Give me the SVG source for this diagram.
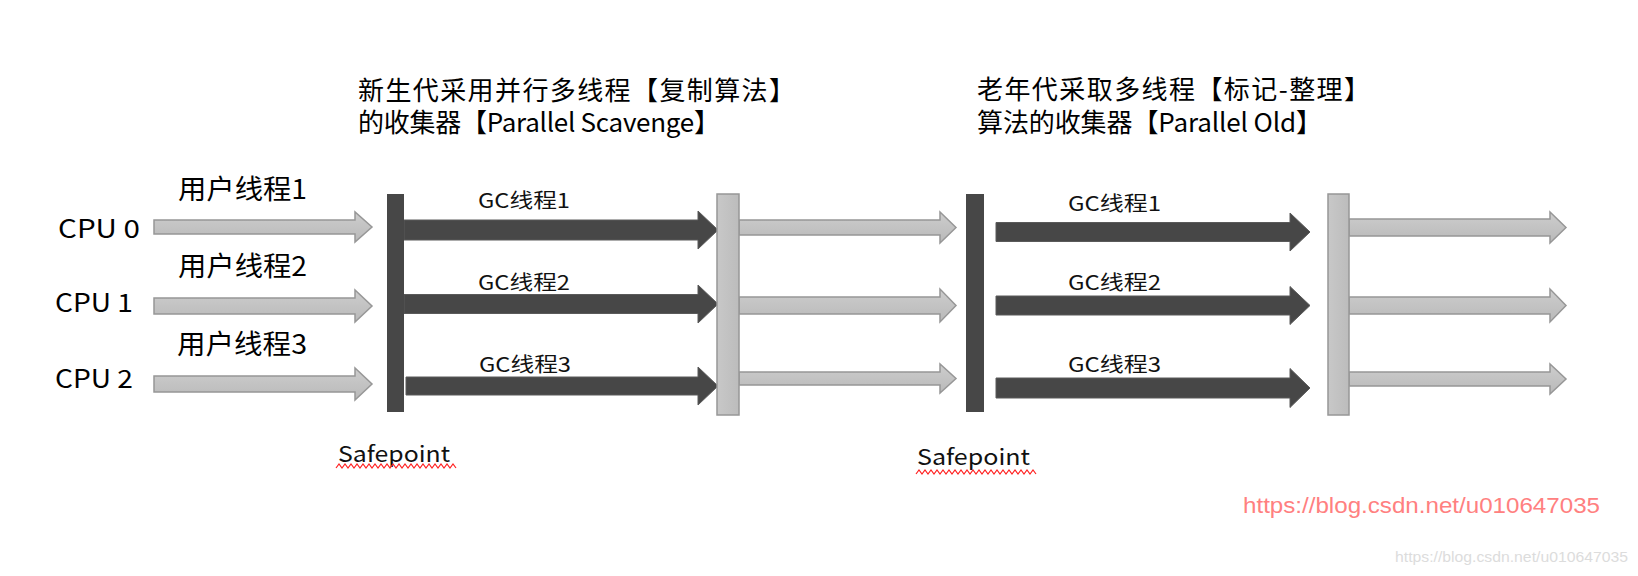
<svg xmlns="http://www.w3.org/2000/svg" width="1638" height="576" viewBox="0 0 1638 576">
<defs>
<linearGradient id="lg" x1="0" y1="0" x2="0" y2="1">
<stop offset="0" stop-color="#cdcdcd"/>
<stop offset="1" stop-color="#b9b9b9"/>
</linearGradient>
<linearGradient id="lgb" x1="0" y1="0" x2="1" y2="0">
<stop offset="0" stop-color="#c8c8c8"/>
<stop offset="1" stop-color="#bcbcbc"/>
</linearGradient>
</defs>
<style>
.t{font-family:"Noto Sans CJK SC","Noto Sans",sans-serif;fill:#000}
.title{font-size:26px}
.lab{font-size:27px}
.cpu{font-size:25px}
.gc{font-size:20px;fill:#111}
.sp{font-size:22px;fill:#111}
.la{fill:url(#lg);stroke:#979797;stroke-width:1.5}
.lb{fill:url(#lgb);stroke:#979797;stroke-width:1.5}
.da{fill:#474747;stroke:#5a5a5a;stroke-width:1}
.db{fill:#474747}
.wave{fill:none;stroke:#ff2020;stroke-width:1.2}
.wm{font-family:"Liberation Sans",Arial,sans-serif}
</style>
<rect width="1638" height="576" fill="#fff"/>

<g id="titles">
<text class="t title" x="358" y="100" textLength="437" lengthAdjust="spacing">新生代采用并行多线程【复制算法】</text>
<text class="t title" x="358" y="132" textLength="362" lengthAdjust="spacing">的收集器【Parallel Scavenge】</text>
<text class="t title" x="977" y="99" textLength="393" lengthAdjust="spacing">老年代采取多线程【标记-整理】</text>
<text class="t title" x="977" y="132" textLength="345" lengthAdjust="spacing">算法的收集器【Parallel Old】</text>
</g>

<g id="cpu-labels">
<text class="t cpu" x="58" y="238" textLength="82" lengthAdjust="spacingAndGlyphs">CPU 0</text>
<text class="t cpu" x="55" y="312" textLength="78" lengthAdjust="spacingAndGlyphs">CPU 1</text>
<text class="t cpu" x="55" y="388" textLength="78" lengthAdjust="spacingAndGlyphs">CPU 2</text>
</g>

<g id="user-thread-labels">
<text class="t lab" x="178" y="199" textLength="129" lengthAdjust="spacingAndGlyphs">用户线程1</text>
<text class="t lab" x="178" y="276" textLength="129" lengthAdjust="spacingAndGlyphs">用户线程2</text>
<text class="t lab" x="177" y="354" textLength="130" lengthAdjust="spacingAndGlyphs">用户线程3</text>
</g>

<g id="connectors">
<polygon class="la" points="154,220 355,220 355,212 372,227 355,242 355,234 154,234"/>
<polygon class="la" points="154,298 355,298 355,290 372,306 355,322 355,314 154,314"/>
<polygon class="la" points="154,376 355,376 355,368 372,384 355,400 355,392 154,392"/>
<polygon class="da" points="404,220 698,220 698,211 718,230 698,249 698,240 404,240"/>
<polygon class="da" points="404,294.5 698,294.5 698,285 718,304 698,323 698,313.5 404,313.5"/>
<polygon class="da" points="406,377 698,377 698,367 718,386 698,405 698,395 406,395"/>
<polygon class="la" points="739,220 940,220 940,212 956,227.5 940,243 940,235 739,235"/>
<polygon class="la" points="739,297 940,297 940,289 956,305.5 940,322 940,314 739,314"/>
<polygon class="la" points="739,372 940,372 940,364 956,378.5 940,393 940,385 739,385"/>
<polygon class="da" points="996,222.5 1290,222.5 1290,213 1310,232 1290,251 1290,241.5 996,241.5"/>
<polygon class="da" points="996,296 1290,296 1290,286.5 1310,305.5 1290,324.5 1290,315 996,315"/>
<polygon class="da" points="996,378 1290,378 1290,368.5 1310,388 1290,407.5 1290,398 996,398"/>
<polygon class="la" points="1349,219 1550,219 1550,212 1566,227.5 1550,243 1550,236 1349,236"/>
<polygon class="la" points="1349,297 1550,297 1550,289 1566,305.5 1550,322 1550,314 1349,314"/>
<polygon class="la" points="1349,372 1550,372 1550,364 1566,379 1550,394 1550,386 1349,386"/>
</g>

<g id="safepoint-1">
<rect class="db" x="387" y="194" width="17" height="218"/>
</g>
<g id="resume-1">
<rect class="lb" x="717" y="194" width="22" height="221"/>
</g>
<g id="safepoint-2">
<rect class="db" x="966" y="194" width="18" height="218"/>
</g>
<g id="resume-2">
<rect class="lb" x="1328" y="194" width="21" height="221"/>
</g>

<g id="gc-labels">
<text class="t gc" x="478" y="208" textLength="92" lengthAdjust="spacingAndGlyphs">GC线程1</text>
<text class="t gc" x="478" y="290" textLength="92" lengthAdjust="spacingAndGlyphs">GC线程2</text>
<text class="t gc" x="479" y="372" textLength="92" lengthAdjust="spacingAndGlyphs">GC线程3</text>
<text class="t gc" x="1068" y="211" textLength="93" lengthAdjust="spacingAndGlyphs">GC线程1</text>
<text class="t gc" x="1068" y="290" textLength="93" lengthAdjust="spacingAndGlyphs">GC线程2</text>
<text class="t gc" x="1068" y="372" textLength="93" lengthAdjust="spacingAndGlyphs">GC线程3</text>
</g>

<g id="safepoint-labels">
<text class="t sp" x="338" y="462" textLength="112" lengthAdjust="spacingAndGlyphs">Safepoint</text>
<path class="wave" d="M336,468 l3,-4 l3,4 l3,-4 l3,4 l3,-4 l3,4 l3,-4 l3,4 l3,-4 l3,4 l3,-4 l3,4 l3,-4 l3,4 l3,-4 l3,4 l3,-4 l3,4 l3,-4 l3,4 l3,-4 l3,4 l3,-4 l3,4 l3,-4 l3,4 l3,-4 l3,4 l3,-4 l3,4 l3,-4 l3,4 l3,-4 l3,4 l3,-4 l3,4 l3,-4 l3,4 l3,-4 l3,4"/>
<text class="t sp" x="917" y="465" textLength="113" lengthAdjust="spacingAndGlyphs">Safepoint</text>
<path class="wave" d="M916,474 l3,-4 l3,4 l3,-4 l3,4 l3,-4 l3,4 l3,-4 l3,4 l3,-4 l3,4 l3,-4 l3,4 l3,-4 l3,4 l3,-4 l3,4 l3,-4 l3,4 l3,-4 l3,4 l3,-4 l3,4 l3,-4 l3,4 l3,-4 l3,4 l3,-4 l3,4 l3,-4 l3,4 l3,-4 l3,4 l3,-4 l3,4 l3,-4 l3,4 l3,-4 l3,4 l3,-4 l3,4"/>
</g>

<g id="watermark">
<text class="wm" x="1243" y="513" font-size="22" fill="#ff8080" textLength="357" lengthAdjust="spacingAndGlyphs">https://blog.csdn.net/u010647035</text>
<text class="wm" x="1395" y="562" font-size="15" fill="#dcdcdc" textLength="233" lengthAdjust="spacingAndGlyphs">https://blog.csdn.net/u010647035</text>
</g>
</svg>
